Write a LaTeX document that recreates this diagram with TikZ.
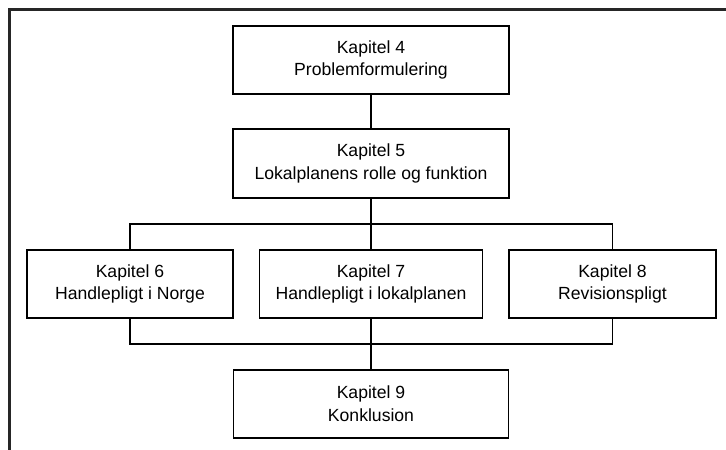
\documentclass[tikz,border=0pt]{standalone}
\usepackage{fontspec}
\setmainfont{Liberation Sans}
\begin{document}
\begin{tikzpicture}[x=1pt,y=-1pt,
  chapbox/.style={draw=black, line width=1.3pt, fill=white, align=center,
    inner sep=0pt, font=\fontsize{17.6}{22.6}\selectfont},
  link/.style={draw=black, line width=1.3pt}]
\useasboundingbox (0,0) rectangle (726,450);
% open page frame (top and left edges)
\draw[line width=2.2pt, draw=black!85] (9.5,450) -- (9.5,9.5) -- (726,9.5);

% chapter boxes
\node[chapbox, minimum width=276pt, minimum height=68pt] (b4) at (371,60) {Kapitel 4\\Problemformulering};
\node[chapbox, minimum width=276pt, minimum height=69pt] (b5) at (371,163.5) {Kapitel 5\\Lokalplanens rolle og funktion};
\node[chapbox, minimum width=206pt, minimum height=68pt] (b6) at (130,284) {Kapitel 6\\Handlepligt i Norge};
\node[chapbox, minimum width=223pt, minimum height=68pt] (b7) at (371,284) {Kapitel 7\\Handlepligt i lokalplanen};
\node[chapbox, minimum width=207pt, minimum height=68pt] (b8) at (612.5,284) {Kapitel 8\\Revisionspligt};
\node[chapbox, minimum width=275pt, minimum height=68pt] (b9) at (371,404) {Kapitel 9\\Konklusion};

% bus lines
\coordinate (busT) at (371,224);
\coordinate (busB) at (371,344);

\draw[link] (b4.south) -- (b5.north);
\draw[link] (b5.south) -- (b7.north);
\draw[link] (b6.north) -- (b6.north |- busT) -- (b8.north |- busT) -- (b8.north);
\draw[link] (b6.south) -- (b6.south |- busB) -- (b8.south |- busB) -- (b8.south);
\draw[link] (b7.south) -- (b9.north);
\end{tikzpicture}
\end{document}
